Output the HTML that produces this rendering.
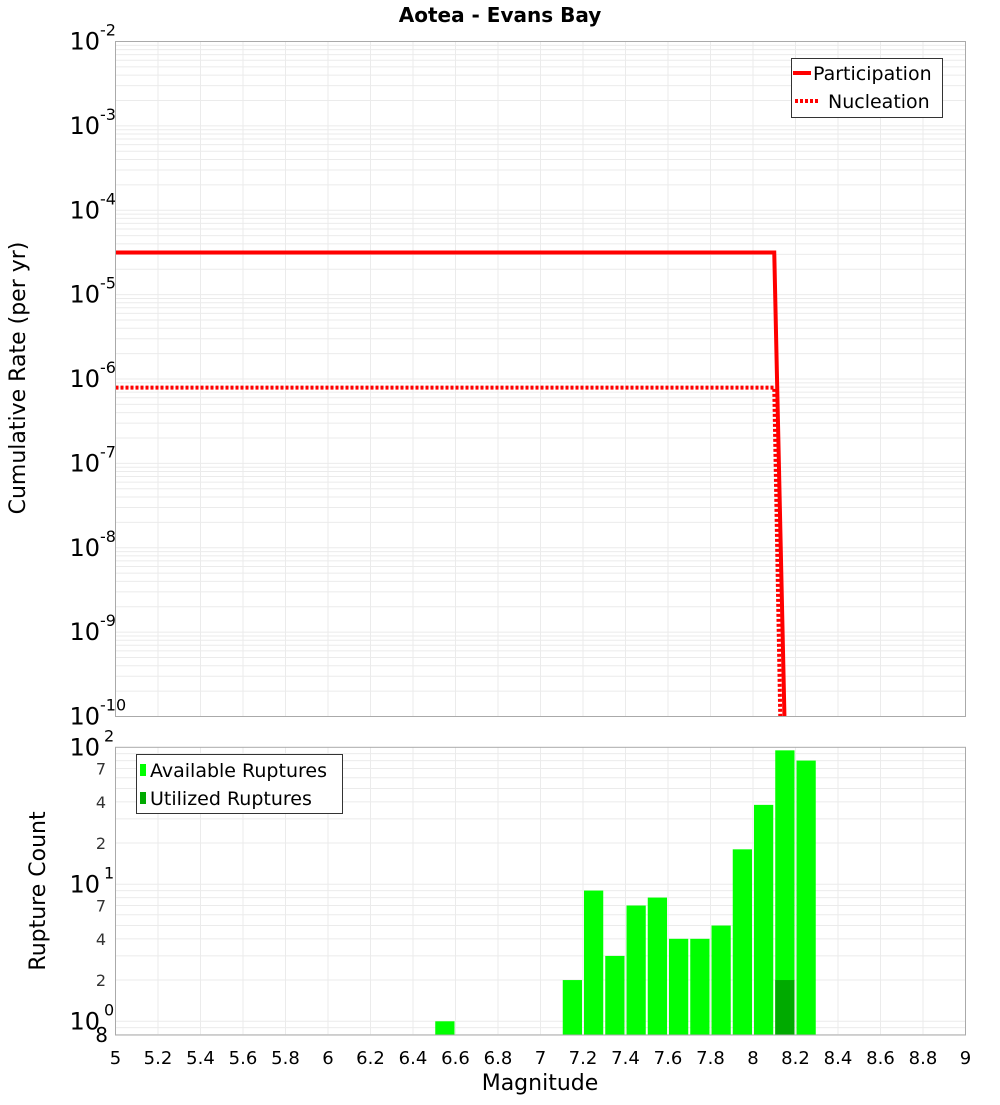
<!DOCTYPE html>
<html><head><meta charset="utf-8"><style>
body{margin:0;background:#fff;}
svg text{font-family:"DejaVu Sans","Liberation Sans",sans-serif;}
</style></head><body>
<svg id="chart" width="1000" height="1100" xmlns="http://www.w3.org/2000/svg">
<text x="500" y="22" text-anchor="middle" font-size="20" font-weight="bold">Aotea - Evans Bay</text>
<text transform="translate(25,378) rotate(-90)" text-anchor="middle" font-size="22">Cumulative Rate (per yr)</text>
<text transform="translate(45,891) rotate(-90)" text-anchor="middle" font-size="22">Rupture Count</text>
<text x="540" y="1090" text-anchor="middle" font-size="22">Magnitude</text>
<g id="topg"></g>
<g id="botg"></g>
</svg>
<script>
const partMags=[5,8.1,8.15];
const partRates=[3.16e-5,3.16e-5,1e-11];
const nuclMags=[5,8.1,8.13];
const nuclRates=[7.9e-7,7.9e-7,1e-11];
const barMags=[6.5,7.1,7.2,7.3,7.4,7.5,7.6,7.7,7.8,7.9,8.0,8.1,8.2];
const availCounts=[1,2,9,3,7,8,4,4,5,18,38,95,80];
const utilMags=[8.1];
const utilCounts=[2];
const xTicks=[5,5.2,5.4,5.6,5.8,6,6.2,6.4,6.6,6.8,7,7.2,7.4,7.6,7.8,8,8.2,8.4,8.6,8.8,9];
const topExps=[-2,-3,-4,-5,-6,-7,-8,-9,-10];
const botExps=[2,1,0];

const NS='http://www.w3.org/2000/svg';
const L=115.5,R=965.5;
const T1=41.5,B1=716.5,T2=747.3,B2=1035;
const x=m=>L+(m-5)/4*(R-L);
const yTop=v=>{let y=T1+(-2-Math.log10(v))*(B1-T1)/8;return Math.min(y,B1+20);};
const yBot=v=>{let y=T2+(2-Math.log10(v))*137;return Math.min(y,B2);};
function mk(tag,attrs,parent,txt){const e=document.createElementNS(NS,tag);for(const k in attrs)e.setAttribute(k,attrs[k]);if(txt!==undefined)e.textContent=txt;parent.appendChild(e);return e;}
const topG=document.getElementById('topg'),botG=document.getElementById('botg');
mk('defs',{},topG).innerHTML='<clipPath id="c1"><rect x="'+L+'" y="'+T1+'" width="'+(R-L)+'" height="'+(B1-T1)+'"/></clipPath>';

for(const t of xTicks){
  const g1=mk('line',{x1:x(t),x2:x(t),y1:T1,y2:B1,stroke:'#ebebeb'},topG);
  
  
  const g2=mk('line',{x1:x(t),x2:x(t),y1:T2,y2:B2,stroke:'#ebebeb'},botG);
  
  
  const lb=mk('text',{x:x(t),y:1064,'text-anchor':'middle','font-size':18},botG,String(t));
  
  
}
for(let e=-10;e<-2;e++)for(let k=1;k<10;k++){
  const y=yTop(k*Math.pow(10,e));
  const g=mk('line',{x1:L,x2:R,y1:y,y2:y,stroke:'#ebebeb'},topG);
  
  
}
for(let e=-1;e<2;e++)for(let k=1;k<10;k++){
  const v=k*Math.pow(10,e);if(v<0.8)continue;
  const y=yBot(v);
  const g=mk('line',{x1:L,x2:R,y1:y,y2:y,stroke:'#ebebeb'},botG);
  
  
}
for(const e of topExps){
  const y=yTop(Math.pow(10,e));
  const t=mk('text',{x:100,y:y+8,'text-anchor':'end','font-size':24},topG,'10');
  
  
  const s=mk('text',{x:100,y:y-6,'font-size':16},topG,String(e));
  
  
}
for(const e of botExps){
  const y=yBot(Math.pow(10,e));
  const t=mk('text',{x:100,y:y+8,'text-anchor':'end','font-size':24},botG,'10');
  
  
  const s=mk('text',{x:104,y:y-6,'font-size':16},botG,String(e));
  
  
}
for(const e of [1,0])for(const k of [2,4,7]){
  const y=yBot(k*Math.pow(10,e));
  const t=mk('text',{x:106,y:y+6,'text-anchor':'end','font-size':16,fill:'#333'},botG,String(k));
  
  
}
const e8=mk('text',{x:108,y:1042,'text-anchor':'end','font-size':20},botG,'8');



barMags.forEach((m,i)=>{
  const y=yBot(availCounts[i]);
  const b=mk('rect',{x:x(m)+1,y:y,width:x(m+0.1)-x(m)-2,height:B2-y,fill:'#00ff00'},botG);
  
  
});
utilMags.forEach((m,i)=>{
  const y=yBot(utilCounts[i]);
  const b=mk('rect',{x:x(m)+1,y:y,width:x(m+0.1)-x(m)-2,height:B2-y,fill:'#00aa00'},botG);
  
  
});

const pl=mk('polyline',{points:partMags.map((m,i)=>x(m)+','+yTop(partRates[i])).join(' '),fill:'none',stroke:'#ff0000','stroke-width':4,'clip-path':'url(#c1)'},topG);


const nl=mk('polyline',{points:nuclMags.map((m,i)=>x(m)+','+yTop(nuclRates[i])).join(' '),fill:'none',stroke:'#ff0000','stroke-width':4,'stroke-dasharray':'3 2','clip-path':'url(#c1)'},topG);



const f1=mk('rect',{x:L,y:T1,width:R-L,height:B1-T1,fill:'none',stroke:'#aaa'},topG);


const f2=mk('rect',{x:L,y:T2,width:R-L,height:B2-T2,fill:'none',stroke:'#aaa'},botG);



const lg=mk('g',{},topG);


mk('rect',{x:791.5,y:58.5,width:151,height:59,fill:'#fff',stroke:'#333'},lg);
mk('line',{x1:793,x2:811,y1:73,y2:73,stroke:'#f00','stroke-width':4},lg);
mk('text',{x:813,y:80,'font-size':19},lg,'Participation');
mk('line',{x1:795,x2:820,y1:101,y2:101,stroke:'#f00','stroke-width':4,'stroke-dasharray':'3 2'},lg);
mk('text',{x:828,y:108,'font-size':19},lg,'Nucleation');
const lg2=mk('g',{},botG);


mk('rect',{x:136.5,y:754.5,width:206,height:59,fill:'#fff',stroke:'#333'},lg2);
mk('rect',{x:140,y:764,width:6,height:12,fill:'#00ff00'},lg2);
mk('text',{x:150,y:777,'font-size':19},lg2,'Available Ruptures');
mk('rect',{x:140,y:792,width:6,height:12,fill:'#00aa00'},lg2);
mk('text',{x:150,y:805,'font-size':19},lg2,'Utilized Ruptures');
</script>
</body></html>
